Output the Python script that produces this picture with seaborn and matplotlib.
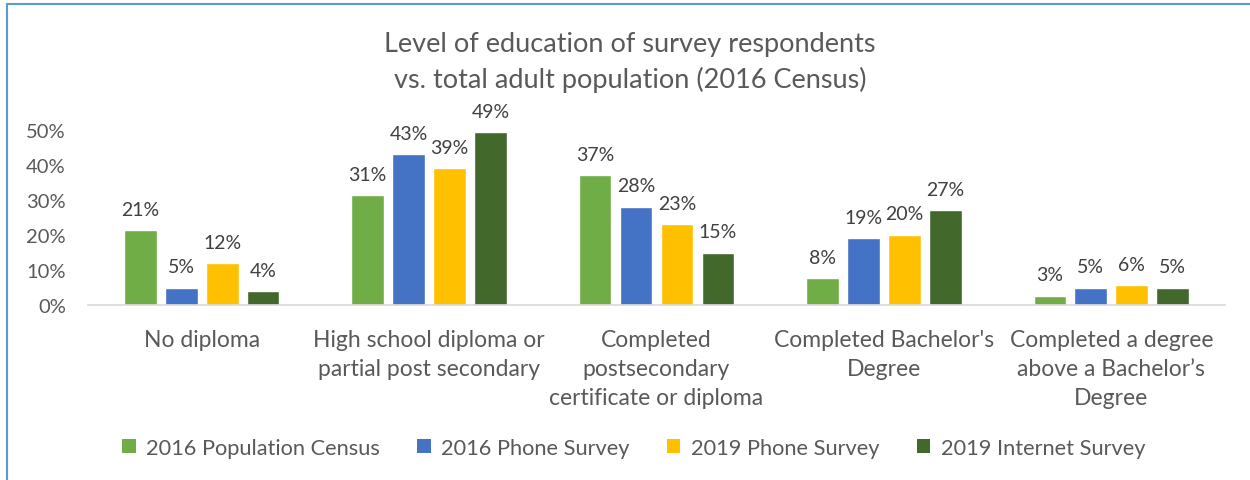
import matplotlib
matplotlib.use("Agg")
import matplotlib.pyplot as plt
import seaborn as sns
import pandas as pd
from matplotlib.lines import Line2D
from matplotlib.patches import Patch

categories = [
    "No diploma",
    "High school diploma or\npartial post secondary",
    "Completed\npostsecondary\ncertificate or diploma",
    "Completed Bachelor's\nDegree",
    "Completed a degree\nabove a Bachelor\u2019s\nDegree",
]
series = ["2016 Population Census", "2016 Phone Survey", "2019 Phone Survey", "2019 Internet Survey"]
census_2016 = [21.4, 31.4, 37.1, 7.7, 2.6]
phone_2016 = [4.9, 43.1, 28.0, 19.1, 4.9]
phone_2019 = [12.0, 39.1, 23.0, 20.0, 5.7]
internet_2019 = [4.0, 49.4, 14.9, 27.1, 4.9]
labels = {
    series[0]: ["21%", "31%", "37%", "8%", "3%"],
    series[1]: ["5%", "43%", "28%", "19%", "5%"],
    series[2]: ["12%", "39%", "23%", "20%", "6%"],
    series[3]: ["4%", "49%", "15%", "27%", "5%"],
}
yticks = [0, 10, 20, 30, 40, 50]
colors = ["#70AD47", "#4472C4", "#FFC000", "#43682B"]

rows = []
for s, vals in zip(series, [census_2016, phone_2016, phone_2019, internet_2019]):
    for c, v in zip(categories, vals):
        rows.append({"Category": c, "Series": s, "Value": v})
df = pd.DataFrame(rows)

sns.set_theme(style="white")
plt.rcParams["font.family"] = ["Lato", "DejaVu Sans"]

fig = plt.figure(figsize=(12.5, 4.81), dpi=100)
ax = fig.add_axes([0.0704, 0.3638, 0.9096, 0.3639])

sns.barplot(data=df, x="Category", y="Value", hue="Series", hue_order=series,
            order=categories, palette=colors, width=0.72, gap=0.2,
            ax=ax, legend=False, saturation=1, errorbar=None)

for cont, s in zip(ax.containers, series):
    ax.bar_label(cont, labels=labels[s], padding=9, fontsize=14, color="#404040", clip_on=False)

ax.set_ylim(0, 50)
ax.set_yticks(yticks)
ax.set_yticklabels([f"{t}%" for t in yticks], fontsize=14.5, color="#595959")
ax.tick_params(axis="y", length=0, pad=16)
ax.tick_params(axis="x", length=0, pad=17, labelsize=16.5, labelcolor="#595959")
for lab in ax.get_xticklabels():
    lab.set_linespacing(1.47)
ax.set_xlabel("")
ax.set_ylabel("")
for sp in ["top", "right", "left"]:
    ax.spines[sp].set_visible(False)
ax.spines["bottom"].set_color("#D9D9D9")
ax.spines["bottom"].set_linewidth(1.2)
ax.set_xlim(-0.5, 4.5)

fig.text(0.504, 0.870, "Level of education of survey respondents\nvs. total adult population (2016 Census)",
         ha="center", va="center", fontsize=19.5, color="#595959", linespacing=1.45)

handles = [Patch(facecolor=c, edgecolor="none") for c in colors]
fig.legend(handles, series, loc="center", bbox_to_anchor=(0.507, 0.067), ncol=4,
           frameon=False, fontsize=15.7, handlelength=0.6, handleheight=0.6,
           handletextpad=0.5, columnspacing=1.7, labelcolor="#595959")

# frame border
fig.add_artist(Line2D([0.0052, 0.0052], [0, 0.99], transform=fig.transFigure, color="#5B9BD5", lw=1.5))
fig.add_artist(Line2D([0.0052, 1.0], [0.99, 0.99], transform=fig.transFigure, color="#5B9BD5", lw=1.5))

fig.savefig("out.png", dpi=100)
